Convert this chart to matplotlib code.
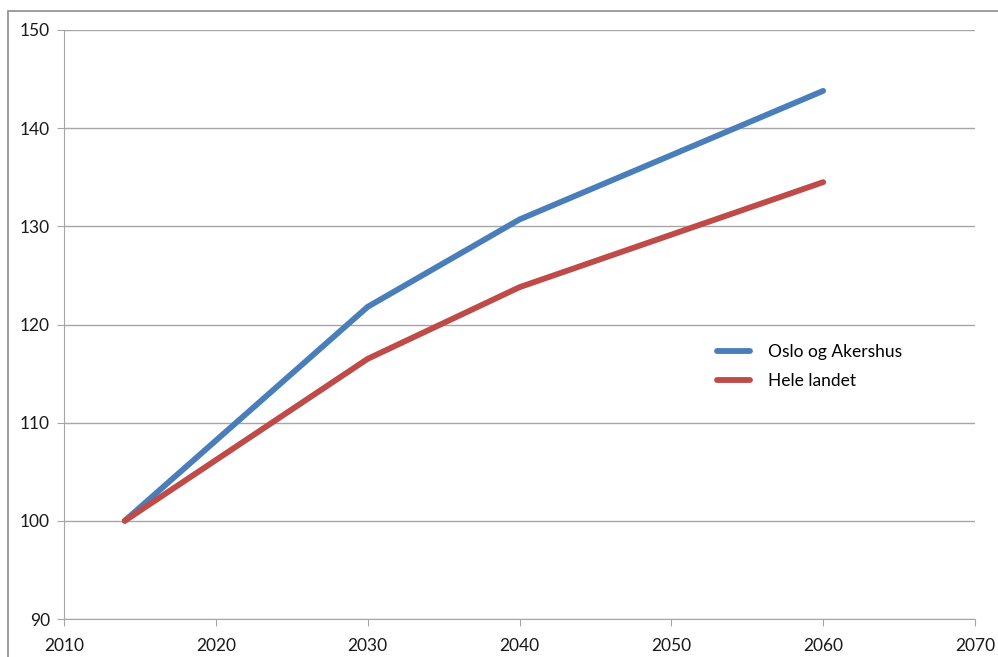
import matplotlib.pyplot as plt
from matplotlib.patches import Rectangle

years = [2014, 2030, 2040, 2060]
oslo_akershus = [100, 121.8, 130.7, 143.8]
hele_landet = [100, 116.5, 123.8, 134.5]
x_ticks = [2010, 2020, 2030, 2040, 2050, 2060, 2070]
y_ticks = [90, 100, 110, 120, 130, 140, 150]

plt.rcParams['font.family'] = ['Lato', 'DejaVu Sans']

fig = plt.figure(figsize=(9.98, 6.57), dpi=100)
ax = fig.add_axes([64 / 998, 38 / 657, 911 / 998, 589 / 657])

# outer chart frame (Excel style)
fig.patches.append(Rectangle((8 / 998, -0.1), 1.2, 646 / 657 + 0.1,
                             transform=fig.transFigure, fill=False,
                             edgecolor='#8c8c8c', linewidth=1.2))

ax.plot(years, oslo_akershus, color='#4a7ebb', linewidth=4.2,
        solid_capstyle='round', label='Oslo og Akershus', zorder=3)
ax.plot(years, hele_landet, color='#be4b48', linewidth=4.2,
        solid_capstyle='round', label='Hele landet', zorder=3)

ax.set_xlim(2010, 2070)
ax.set_ylim(90, 150)
ax.set_xticks(x_ticks)
ax.set_yticks(y_ticks)
ax.grid(axis='y', color='#a6a6a6', linewidth=1)
ax.set_axisbelow(True)

for side in ['top', 'right']:
    ax.spines[side].set_visible(False)
ax.spines['left'].set_color('#a6a6a6')
ax.spines['bottom'].set_color('#a6a6a6')
ax.tick_params(axis='both', colors='#a6a6a6', labelcolor='#1a1a1a',
               labelsize=12.5, length=5)
ax.tick_params(axis='y', pad=5)
ax.tick_params(axis='x', pad=9)

leg = ax.legend(loc='upper left', bbox_to_anchor=(0.70, 0.493), frameon=False,
                fontsize=12.5, handlelength=1.9, handletextpad=1.0,
                labelspacing=0.75)

fig.savefig('out.png', dpi=100)
